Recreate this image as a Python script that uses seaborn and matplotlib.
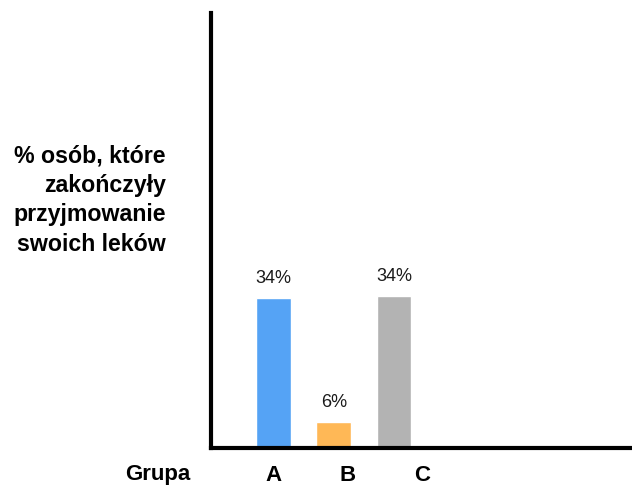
import matplotlib
matplotlib.use("Agg")
import matplotlib.pyplot as plt
import seaborn as sns
import pandas as pd

groups = ["A", "B", "C"]
values = [34.0, 5.8, 34.4]
value_labels = ["34%", "6%", "34%"]
colors = ["#55a3f5", "#ffb856", "#b3b3b3"]
ylabel_text = "% osób, które\nzakończyły\nprzyjmowanie\nswoich leków"
xlabel_text = "Grupa"

sns.set_style("white")
plt.rcParams['font.family'] = ['Liberation Sans', 'DejaVu Sans']
plt.rcParams['text.color'] = 'black'
plt.rcParams['xtick.color'] = 'black'

df = pd.DataFrame({"grupa": groups, "val": values})

fig = plt.figure(figsize=(6.32, 4.86), dpi=100)
ax = fig.add_axes([211/632, 1 - 448/486, (632-211)/632, (448-13)/486])

sns.barplot(data=df, x="grupa", y="val", hue="grupa", palette=colors,
            width=0.58, legend=False, ax=ax, saturation=1)

ax.set_xlim(-1.037, 5.95)
ax.set_ylim(0, 98.6)

for i, (v, lab) in enumerate(zip(values, value_labels)):
    ax.annotate(lab, (i, v), xytext=(0, 8), textcoords="offset points",
                ha="center", va="bottom", fontsize=13, color="#1a1a1a")

sns.despine(ax=ax)
for s in ["left", "bottom"]:
    ax.spines[s].set_linewidth(3)
    ax.spines[s].set_color("black")

ax.set_yticks([])
tick_pos = [-0.008, 1.228, 2.465]
ax.set_xticks(tick_pos)
ax.set_xticklabels(groups, fontsize=16, fontweight="bold", color="black")
ax.tick_params(axis="x", length=0, pad=12)
ax.set_xlabel("")
ax.set_ylabel("")

fig.text(158/632, 1 - 474/486, xlabel_text, ha="center", va="center",
         fontsize=16, fontweight="bold", color="black")
fig.text(166/632, 1 - 200/486, ylabel_text, ha="right", va="center",
         fontsize=16.7, fontweight="bold", linespacing=1.37, color="black")

fig.savefig("out.png", dpi=100)
